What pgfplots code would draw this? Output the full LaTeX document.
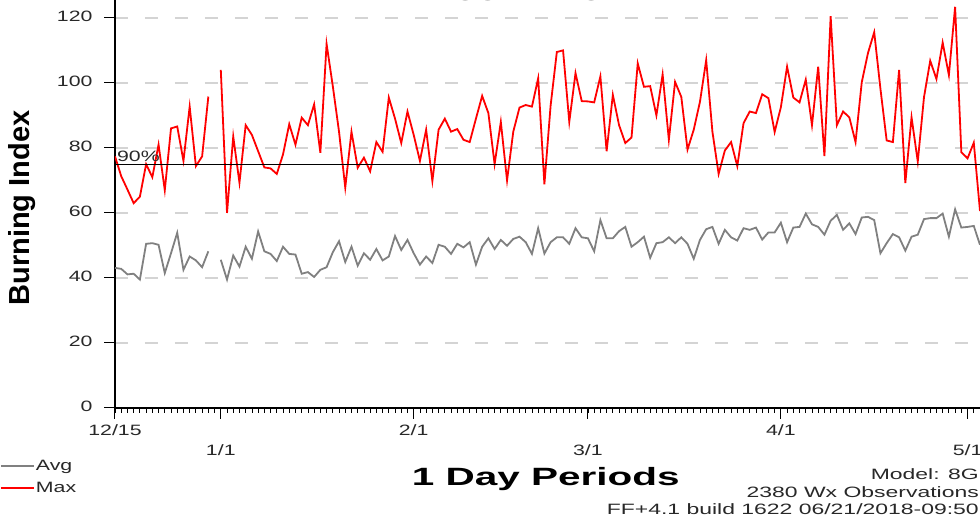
\documentclass[border=0pt]{standalone}
\usepackage{pgfplots}
\usepackage{pgfplotstable}
\pgfplotsset{compat=1.18}
\usepackage{fontspec}
\setmainfont{Liberation Sans}[FakeStretch=1.42]
\newfontfamily\titlefont{Liberation Sans}[FakeStretch=1.62]
\newfontfamily\notefont{Liberation Sans}[FakeStretch=1.53]
\newfontfamily\ylabfont{Liberation Sans}
\definecolor{avgc}{RGB}{128,128,128}
\definecolor{maxc}{RGB}{255,0,0}
\definecolor{gridc}{RGB}{212,212,212}
\definecolor{txtc}{RGB}{40,40,40}

\pgfplotstableread{
d avg max
0 43.1 77.4
1 42.8 71.3
2 41.1 67.2
3 41.3 63
4 39.5 65
5 50.5 75
6 50.7 71
7 50.2 81
8 41.5 67
9 47.6 86
10 53.9 86.6
11 42.5 76
12 46.6 92.7
13 45.4 74.4
14 43.3 77.4
15 48.2 95.8
16 nan nan
17 45.6 104
18 39.5 60
19 46.9 83.5
20 43.5 69.3
21 49.6 87
22 45.9 84
23 54.3 79
24 48.2 74
25 47.4 73.7
26 45.2 72
27 49.6 78
28 47.4 87.3
29 47.2 81
30 41.3 89.3
31 41.8 87
32 40.3 93.4
33 42.5 78.5
34 43.3 112
35 47.9 99
36 51.3 85
37 44.9 67.8
38 49.6 85
39 43.8 73.9
40 47.6 77
41 45.6 72.8
42 48.9 81.8
43 45.4 78.8
44 46.6 95.5
45 52.9 89
46 48.6 81.5
47 51.7 91.2
48 47.6 84
49 44.1 76
50 46.6 85.6
51 44.6 69.8
52 50.2 85.6
53 49.6 89
54 47.4 85
55 50.5 85.8
56 49.4 82.5
57 51 81.8
58 44.1 89
59 49.6 96
60 52.2 90.7
61 48.9 75
62 51.7 88
63 49.9 70
64 52 85
65 52.7 92.4
66 51 93.2
67 47.4 92.7
68 55.3 101.4
69 47.5 68.8
70 51 93
71 52.5 109.5
72 52.5 110
73 50.5 88
74 55.3 103
75 52.5 94.4
76 52.2 94.3
77 48.2 94
78 57.8 102
79 52.2 79
80 52.2 96.3
81 54.4 87
82 55.7 81.5
83 49.6 83.2
84 51 106
85 52.7 98.8
86 46.2 99
87 50.7 90
88 51 102.6
89 52.5 82.5
90 50.7 100.3
91 52.5 95.7
92 50.5 79.5
93 45.9 85.6
94 51.7 94.2
95 55 107
96 55.7 85
97 50.5 72
98 54.8 79.2
99 52.5 81.8
100 51.5 74.4
101 55.3 87.6
102 54.8 91.2
103 55.5 90.7
104 51.8 96.5
105 54 95.3
106 54 84.9
107 57 92.5
108 51 105
109 55.5 95.5
110 55.7 94
111 59.8 101
112 56.5 87
113 55.7 105
114 53.3 77.5
115 57.6 120.5
116 59.4 87
117 54.8 91.2
118 56.8 89.4
119 53.5 81.8
120 58.6 100.2
121 58.8 109.2
122 57.8 115.6
123 47.6 98.2
124 50.7 82.3
125 53.5 81.8
126 52.5 104
127 48.4 69.2
128 52.7 89.4
129 53.3 75.8
130 58.1 95.6
131 58.4 106.8
132 58.4 101.2
133 59.8 112.4
134 52.7 102.4
135 61.1 123.4
136 55.5 78.7
137 55.7 76.8
138 56 81.6
139 50.2 60.6
}\bidata

\begin{document}
\begin{tikzpicture}
\begin{axis}[
  scale only axis,
  width=865pt, height=408pt,
  xmin=0, xmax=139, ymin=0, ymax=125.5,
  axis lines*=left,
  axis line style={black, line width=1.3pt},
  ytick={0,20,...,120},
  yticklabel style={xshift=-8pt, yshift=2pt},
  ymajorgrids,
  major grid style={gridc, line width=1.3pt, dash pattern=on 13pt off 17pt},
  xtick={0,48,107},
  xticklabels={12/15,2/1,4/1},
  xticklabel style={yshift=-2pt},
  extra x ticks={17,76,137},
  extra x tick labels={1/1,3/1,5/1},
  extra x tick style={xticklabel style={yshift=-20pt}},
  minor xtick={0,1,...,139},
  tick align=outside,
  major tick length=11pt,
  minor tick length=5pt,
  tick style={black, line width=1pt},
  minor tick style={black, line width=0.8pt},
  tick label style={font=\fontsize{15}{18}\selectfont, color=txtc},
  /pgf/number format/assume math mode=true,
  unbounded coords=jump,
  title={\titlefont\bfseries 2007 - 2017},
  title style={at={(axis description cs:0.491,0.984)}, anchor=base, font=\fontsize{25}{30}\selectfont, color=txtc},
  xlabel={\titlefont\bfseries 1 Day Periods},
  xlabel style={at={(axis description cs:0.498,-0.191)}, anchor=base, font=\fontsize{25}{30}\selectfont, color=black},
  ylabel={\ylabfont\bfseries Burning Index},
  ylabel style={at={(axis description cs:-0.1075,0.49)}, anchor=center, font=\fontsize{29}{34}\selectfont, color=black},
  legend style={at={(axis description cs:-0.133,-0.116)}, anchor=north west, draw=none, fill=none,
    inner sep=0pt, outer sep=0pt, font=\fontsize{15}{18}\selectfont, row sep=0pt,
    nodes={inner xsep=1pt, inner ysep=5pt, text=txtc}},
  legend cell align=left,
  legend image code/.code={\draw[#1, line width=2pt] (0pt,0pt) -- (33pt,0pt);},
]
\addplot[avgc, line width=1.8pt] table[x=d, y=avg] {\bidata};
\addlegendentry{Avg}
\addplot[maxc, line width=1.8pt] table[x=d, y=max] {\bidata};
\addlegendentry{Max}
\addplot[black, line width=1pt, forget plot] coordinates {(0,75) (139,75)};
\node[anchor=base west, inner sep=0pt, font=\fontsize{15}{18}\selectfont, color=txtc] at (axis cs:0.3,75.8) {90\%};
\end{axis}
\node[anchor=base east, inner sep=0pt, font=\notefont\fontsize{15}{18}\selectfont, color=txtc] at (864pt,-71.5pt) {Model: 8G};
\node[anchor=base east, inner sep=0pt, font=\notefont\fontsize{15}{18}\selectfont, color=txtc] at (864pt,-89.5pt) {2380 Wx Observations};
\node[anchor=base east, inner sep=0pt, font=\notefont\fontsize{15}{18}\selectfont, color=txtc] at (864pt,-106.5pt) {FF+4.1 build 1622 06/21/2018-09:50};
\pgfresetboundingbox
\useasboundingbox (-115pt,-113pt) rectangle (865pt,408pt);
\end{tikzpicture}
\end{document}
